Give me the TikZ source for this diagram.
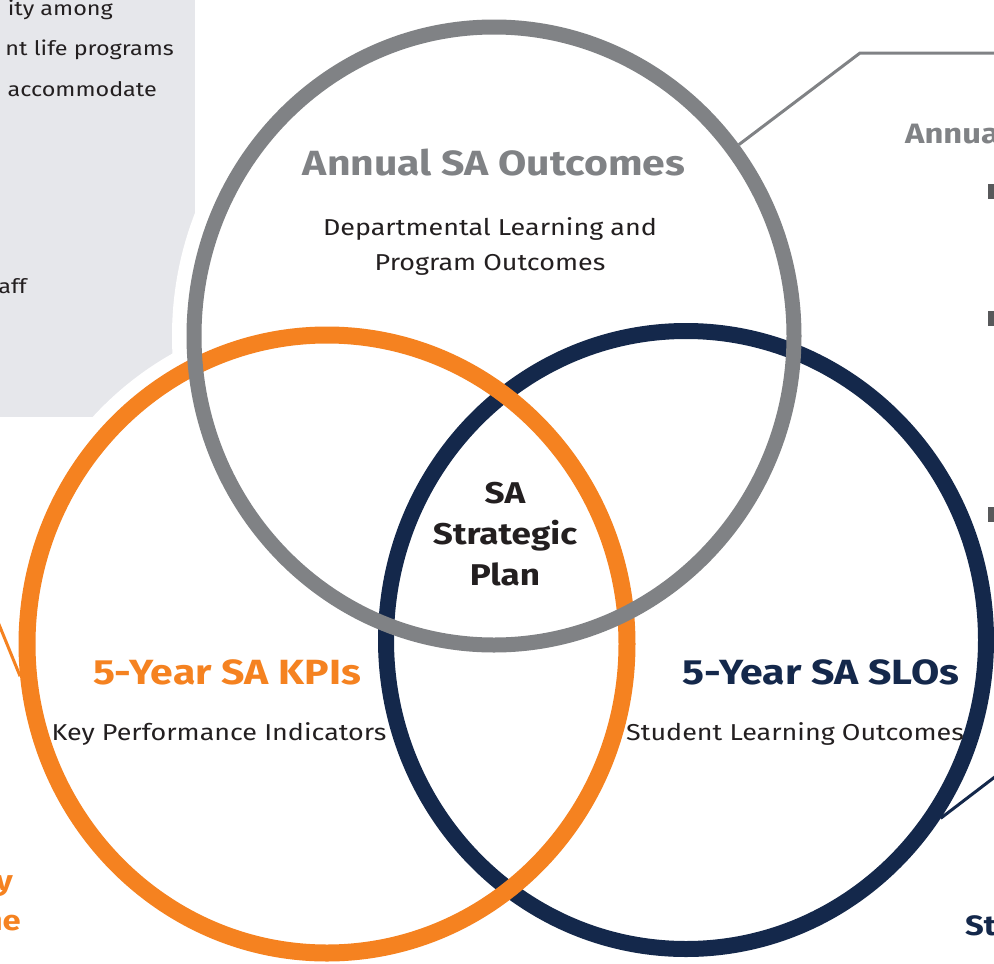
\documentclass[tikz,border=0pt]{standalone}
\usepackage{fontspec}
\setmainfont{Fira Sans}[FakeStretch=1.17]
\usetikzlibrary{shapes.geometric}
\definecolor{ringgray}{HTML}{808285}
\definecolor{ringorange}{HTML}{F58220}
\definecolor{ringnavy}{HTML}{14284B}
\definecolor{boxgray}{HTML}{E6E7EB}
\definecolor{textblack}{HTML}{231F20}
\definecolor{bulletgray}{HTML}{58595B}
\tikzstyle{ring}=[ellipse,draw,inner sep=0pt,minimum width=600pt,minimum height=618pt]
\tikzstyle{halo}=[ring,draw=white,fill=white,line width=44pt]
\tikzstyle{heading}=[font=\fontsize{35}{40}\selectfont\bfseries]
\tikzstyle{subtext}=[font=\fontsize{23}{35}\selectfont,text=textblack,align=center]
\tikzstyle{sidetext}=[font=\fontsize{20}{24}\selectfont,text=textblack,anchor=base east,inner sep=0pt]
\tikzstyle{cuttext}=[font=\fontsize{28}{32}\selectfont\bfseries,inner sep=0pt]
\tikzstyle{leader}=[draw,line width=3pt]

\begin{document}
\begin{tikzpicture}[x=1pt,y=-1pt]
\useasboundingbox (0,0) rectangle (994,964);

  % grey side box, cut back by the rings
  \fill[boxgray] (0,0) rectangle (195,417);
  \foreach \x/\y/\name in {686/640/slohalo, 327/644/kpihalo, 494/336/annualhalo}
          \node[halo] (\name) at (\x,\y) {};

  % the three rings
  \node[ring, draw=ringnavy, line width=16pt] (slo) at (686,640) {};
  \node[ring, draw=ringorange, line width=17pt] (kpi) at (327,644) {};
  \node[ring, draw=ringgray, line width=15pt] (annual) at (494,336) {};

  % leader lines to the side panels
  \coordinate (annualbend) at (860,53);
  \coordinate (annualend) at (1000,53);
  \coordinate (sloend) at (1000,773);
  \coordinate (kpiend) at (-2,622);
  \draw[leader, ringgray] (annual.38) -- (annualbend) -- (annualend);
  \draw[leader, ringnavy] (slo.-35) -- (sloend);
  \draw[leader, ringorange] (kpi.186) -- (kpiend);

  % ring texts
  \node[heading, text=ringgray] (annualtitle) at (494,163) {Annual SA Outcomes};
  \node[subtext] (annualsub) at (490,246) {Departmental Learning and\\Program Outcomes};
  \node[heading, text=textblack, align=center, font=\fontsize{30}{41}\selectfont\bfseries] (plan) at (505,534) {SA\\Strategic\\Plan};
  \node[heading, text=ringorange] (kpititle) at (227,672) {5-Year SA KPIs};
  \node[subtext] (kpisub) at (219,734) {Key Performance Indicators};
  \node[heading, text=ringnavy] (slotitle) at (821,672) {5-Year SA SLOs};
  \node[subtext] (slosub) at (795,734) {Student Learning Outcomes};

  % cut-off side panel texts
  \foreach \x/\y/\name/\label in {113/15/boxline1/ity among, 174/55/boxline2/nt life programs, 157/96/boxline3/accommodate, 27/293/boxline4/aff}
          \node[sidetext] (\name) at (\x,\y) {\label};
  \node[cuttext, text=ringgray, anchor=base west] (rightlabel) at (905,143) {Annua};
  \node[cuttext, text=ringnavy, anchor=base west] (bottomlabel) at (965,935) {St};
  \node[cuttext, text=ringorange, anchor=base east] (leftlabel1) at (13,890) {y};
  \node[cuttext, text=ringorange, anchor=base east] (leftlabel2) at (21,930) {ne};

  \foreach \y in {184, 311, 507}
          \fill[bulletgray] (988,\y) rectangle (1000,\y+15);

\end{tikzpicture}
\end{document}
